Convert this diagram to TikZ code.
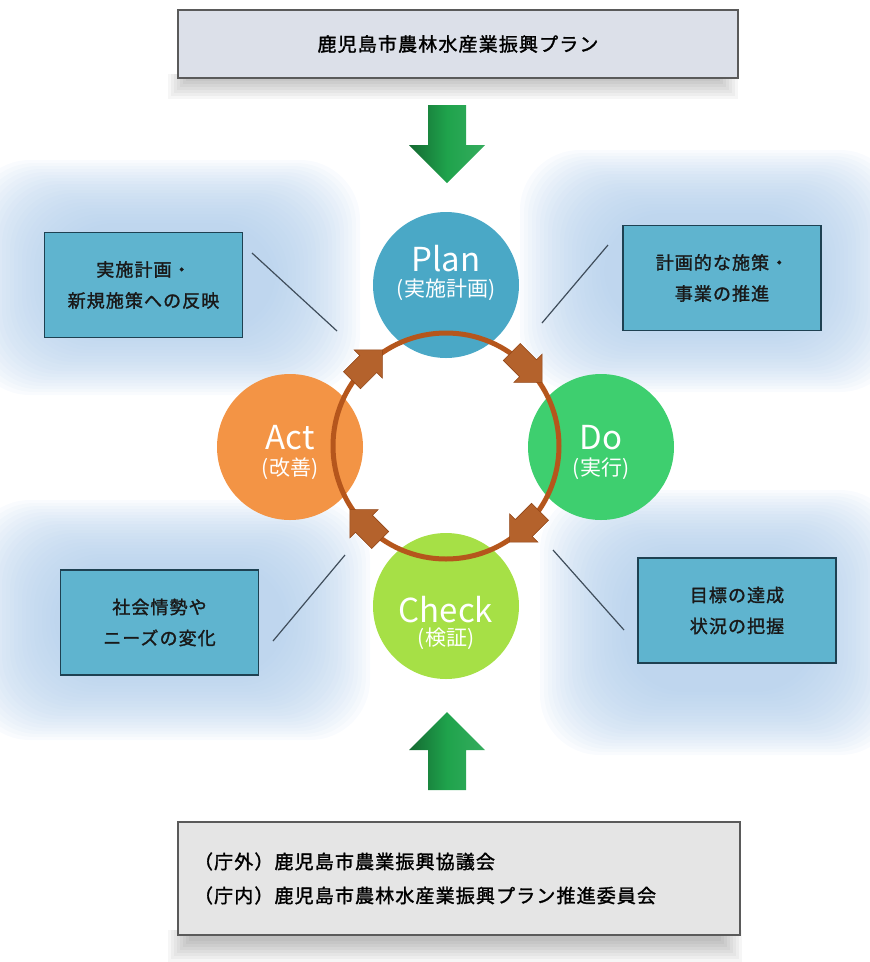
\documentclass[tikz,border=0pt]{standalone}
\usepackage{fontspec}
\usetikzlibrary{positioning}

\newfontfamily\jpfont{Noto Sans CJK JP}
\newfontfamily\jpwide[LetterSpace=6,FakeBold=1.5]{Noto Sans CJK JP}

\definecolor{planblue}{HTML}{4AA8C6}
\definecolor{actorange}{HTML}{F39445}
\definecolor{dogreen}{HTML}{3ECF6F}
\definecolor{checkgreen}{HTML}{A6E046}
\definecolor{ringbrown}{HTML}{B5561C}
\definecolor{arrowbrown}{HTML}{B4622C}
\definecolor{notefill}{HTML}{5FB4CF}
\definecolor{noteedge}{HTML}{1E4152}
\definecolor{glowblue}{HTML}{AFCCEA}
\definecolor{headfill}{HTML}{DCE0E9}
\definecolor{footfill}{HTML}{E5E5E5}
\definecolor{framegray}{HTML}{5A5A5A}
\definecolor{flowgreen}{HTML}{1FA34C}
\definecolor{linkgray}{HTML}{3F4D5B}

\begin{document}
\begin{tikzpicture}[x=1pt, y=-1pt,
    phase/.style={circle, minimum size=146pt, inner sep=0pt},
    phaselbl/.style={text=white, inner sep=0pt, font=\jpfont\fontsize{33}{36}\selectfont},
    phasesub/.style={text=white, inner sep=0pt, font=\jpfont\fontsize{21}{24}\selectfont},
    notebox/.style={draw=noteedge, line width=1.4pt, fill=notefill, minimum width=198pt,
        minimum height=105pt, align=center, text=black!90,
        font=\jpwide\fontsize{18}{31}\selectfont},
    planbox/.style={draw=framegray, line width=1.2pt, inner sep=0pt, text=black,
        font=\jpwide\fontsize{19}{34}\selectfont},
    glow/.style={glowblue, opacity=0.07, rounded corners=60pt},
    link/.style={linkgray, line width=1.2pt}]
    \useasboundingbox (0,0) rectangle (870,962);

    % Soft blue glow behind the side notes
    \foreach \xa/\ya/\xb/\yb in {-30/160/360/395, 520/150/900/392, -30/500/370/740, 540/490/900/755} {
        \foreach \k in {0,...,21}
            \fill[glow] ({\xa+\k*4},{\ya+\k*3}) rectangle ({\xb-\k*4},{\yb-\k*3});
    }

    % Shadows under top and bottom boxes
    \foreach \k in {0,...,7} {
        \fill[black, opacity=0.035] ({168+\k*3},74) rectangle ({738-\k*3},{99-\k*3});
        \fill[black, opacity=0.035] ({168+\k*3},930) rectangle ({742-\k*3},{962-\k*3});
    }

    % Top and bottom boxes
    \node[planbox, fill=headfill, minimum width=560pt, minimum height=68pt] (head) at (458,44)
        {鹿児島市農林水産業振興プラン};
    \node[planbox, fill=footfill, minimum width=562pt, minimum height=113pt,
        text width=530pt, inner xsep=16pt, align=left] (foot) at (459,878.5)
        {（庁外）鹿児島市農業振興協議会\\（庁内）鹿児島市農林水産業振興プラン推進委員会};

    % Green flow arrows
    \shade[left color=flowgreen!65!black, right color=flowgreen!90!white, middle color=flowgreen]
        (428,105) -- (466,105) -- (466,145) -- (485,145) -- (447,183) -- (409,145) -- (428,145) -- cycle;
    \shade[left color=flowgreen!65!black, right color=flowgreen!90!white, middle color=flowgreen]
        (428,790) -- (466,790) -- (466,750) -- (485,750) -- (447,712) -- (409,750) -- (428,750) -- cycle;

    % Side notes
    \node[notebox] (tlnote) at (143.5,285) {実施計画・\\新規施策への反映};
    \node[notebox] (trnote) at (722,278) {計画的な施策・\\事業の推進};
    \node[notebox] (blnote) at (159.5,622.5) {社会情勢や\\ニーズの変化};
    \node[notebox] (brnote) at (737,610.5) {目標の達成\\状況の把握};

    % Lines from notes towards the cycle
    \coordinate (tla) at (252,253);  \coordinate (tlb) at (337,331);
    \coordinate (tra) at (608,245);  \coordinate (trb) at (542,323);
    \coordinate (bla) at (273,641);  \coordinate (blb) at (345,555);
    \coordinate (bra) at (553,550);  \coordinate (brb) at (624,630);
    \draw[link] (tla) -- (tlb);
    \draw[link] (tra) -- (trb);
    \draw[link] (bla) -- (blb);
    \draw[link] (bra) -- (brb);

    % PDCA circles
    \node[phase, fill=planblue] (plan) at (446,285) {};
    \node[phase, fill=actorange] (act) at (290,447) {};
    \node[phase, fill=dogreen] (do) at (601,447) {};
    \node[phase, fill=checkgreen] (check) at (446,606) {};

    \node[phaselbl] (planlbl) at (446,259) {Plan};
    \node[phasesub] (plansub) at (446,290) {(実施計画)};
    \node[phaselbl] (actlbl) at (290,438) {Act};
    \node[phasesub] (actsub) at (290,469) {(改善)};
    \node[phaselbl] (dolbl) at (601,438) {Do};
    \node[phasesub] (dosub) at (601,469) {(実行)};
    \node[phaselbl] (checklbl) at (446,610) {Check};
    \node[phasesub] (checksub) at (446,639) {(検証)};

    % Cycle ring with clockwise arrows
    \node[circle, draw=ringbrown, line width=5pt, minimum size=226pt, outer sep=0pt] (ring) at (446,446) {};
    \foreach \a in {45,135,225,315} {
        \begin{scope}[shift={(ring.\a)}, rotate=\a-90]
            \fill[arrowbrown, draw=ringbrown!80!black, line width=0.6pt]
                (-20,-12) -- (3,-12) -- (3,-20) -- (23,0) -- (3,20) -- (3,12) -- (-20,12) -- cycle;
        \end{scope}
    }
\end{tikzpicture}
\end{document}
